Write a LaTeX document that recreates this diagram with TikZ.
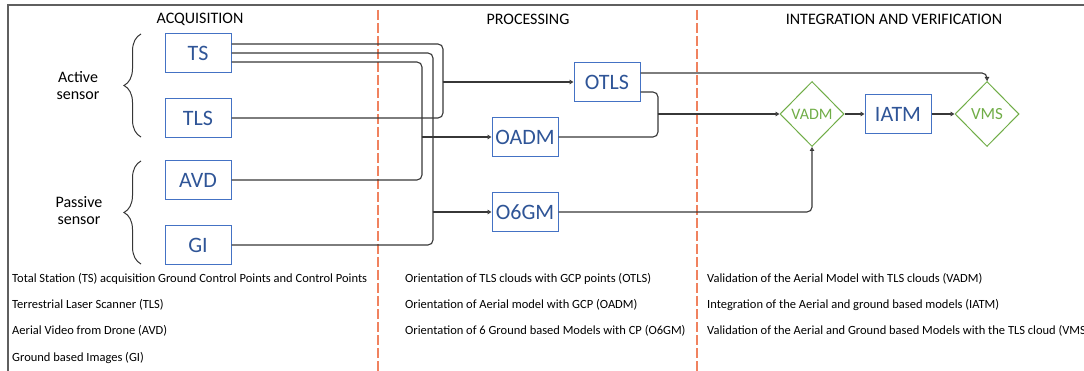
\documentclass[tikz,border=0pt]{standalone}
\usepackage{fontspec}
\setmainfont{Carlito}
\usetikzlibrary{arrows.meta,shapes.geometric,decorations.pathreplacing}
\definecolor{boxblue}{RGB}{68,114,196}
\definecolor{textblue}{RGB}{47,85,151}
\definecolor{checkgreen}{RGB}{112,173,71}
\definecolor{divorange}{RGB}{240,130,95}
\definecolor{wiregray}{RGB}{55,55,55}
\definecolor{framegray}{RGB}{95,95,95}

\begin{document}
\begin{tikzpicture}[x=1pt,y=-1pt,
	box/.style={draw=boxblue, line width=1pt, text=textblue, minimum width=66pt, minimum height=39pt, inner sep=0pt, font=\fontsize{22}{24}\selectfont},
	check/.style={diamond, draw=checkgreen, line width=1pt, text=checkgreen, minimum width=64pt, minimum height=65pt, inner sep=0pt},
	head/.style={font=\fontsize{16}{18}\selectfont},
	side/.style={align=center, font=\fontsize{16}{17}\selectfont},
	note/.style={anchor=west, inner sep=0pt, font=\fontsize{12.5}{14}\selectfont},
	wire/.style={draw=wiregray, line width=1.1pt, rounded corners=5pt},
	link/.style={wire, -{Triangle[open, length=4pt, width=4.5pt]}},
	bracket/.style={draw=wiregray, line width=1pt, decorate, decoration={brace, amplitude=17pt}},
	divider/.style={draw=divorange, line width=1.3pt, dash pattern=on 10pt off 3pt}]
	
	\useasboundingbox (0,0) rectangle (1084,371);
	\draw[framegray, line width=1.4pt] (1084,5) -- (8,5) -- (8,371);
	\draw[divider] (378,10) -- (378,371);
	\draw[divider] (697,10) -- (697,371);
	
	\node[head] (hacq) at (200,19) {ACQUISITION};
	\node[head] (hproc) at (528,19) {PROCESSING};
	\node[head] (hint) at (894,19) {INTEGRATION AND VERIFICATION};
	
	\node[side] (active) at (78,86) {Active\\sensor};
	\node[side] (passive) at (79,211) {Passive\\sensor};
	\draw[bracket] (141,137) -- (141,34);
	\draw[bracket] (141,264) -- (141,161);
	
	\node[box] (ts) at (198,53) {TS};
	\node[box] (tls) at (198,118) {TLS};
	\node[box] (avd) at (198,180) {AVD};
	\node[box] (gi) at (198,245) {GI};
	
	\node[box] (otls) at (607,82) {OTLS};
	\node[box] (oadm) at (525,137) {OADM};
	\node[box] (o6gm) at (525,212) {O6GM};
	
	\node[check, font=\fontsize{16}{18}\selectfont] (vadm) at (812,114) {VADM};
	\node[box] (iatm) at (898,114) {IATM};
	\node[check, font=\fontsize{17}{18}\selectfont] (vms) at (987,114) {VMS};
	
	\coordinate (ja) at (443,82);
	\coordinate (jb) at (422,137);
	\coordinate (jc) at (433,212);
	\coordinate (jd) at (658,114);
	
	\path[wire] ([yshift=9pt]ts.east) -| (ja);
	\path[wire] (tls.east) -| (ja);
	\path[link] (ja) -- (otls.west);
	
	\path[wire] ([yshift=-9pt]ts.east) -| (jb);
	\path[wire] (avd.east) -| (jb);
	\path[link] (jb) -- (oadm.west);
	
	\path[wire] (ts.east) -| (jc);
	\path[wire] (gi.east) -| (jc);
	\path[link] (jc) -- (o6gm.west);
	
	\path[wire] ([yshift=-10pt]otls.east) -| (jd);
	\path[wire] (oadm.east) -| (jd);
	\path[link] (jd) -- (vadm.west);
	
	\path[link] ([yshift=9pt]otls.east) -| (vms.north);
	\path[link] (o6gm.east) -| (vadm.south);
	\path[link] (vadm) -- (iatm);
	\path[link] (iatm) -- (vms);
	
	\node[note] (n1) at (12,279) {Total Station (TS) acquisition Ground Control Points and Control Points};
	\node[note] (n2) at (12,305) {Terrestrial Laser Scanner (TLS)};
	\node[note] (n3) at (12,331) {Aerial Video from Drone (AVD)};
	\node[note] (n4) at (12,358) {Ground based Images (GI)};
	
	\node[note] (n5) at (405,279) {Orientation of TLS clouds with GCP points (OTLS)};
	\node[note] (n6) at (405,305) {Orientation of Aerial model with GCP (OADM)};
	\node[note] (n7) at (405,331) {Orientation of 6 Ground based Models with CP (O6GM)};
	
	\node[note] (n8) at (707,279) {Validation of the Aerial Model with TLS clouds (VADM)};
	\node[note] (n9) at (707,305) {Integration of the Aerial and ground based models (IATM)};
	\node[note] (n10) at (707,331) {Validation of the Aerial and Ground based Models with the TLS cloud (VMS)};
	
\end{tikzpicture}
\end{document}
